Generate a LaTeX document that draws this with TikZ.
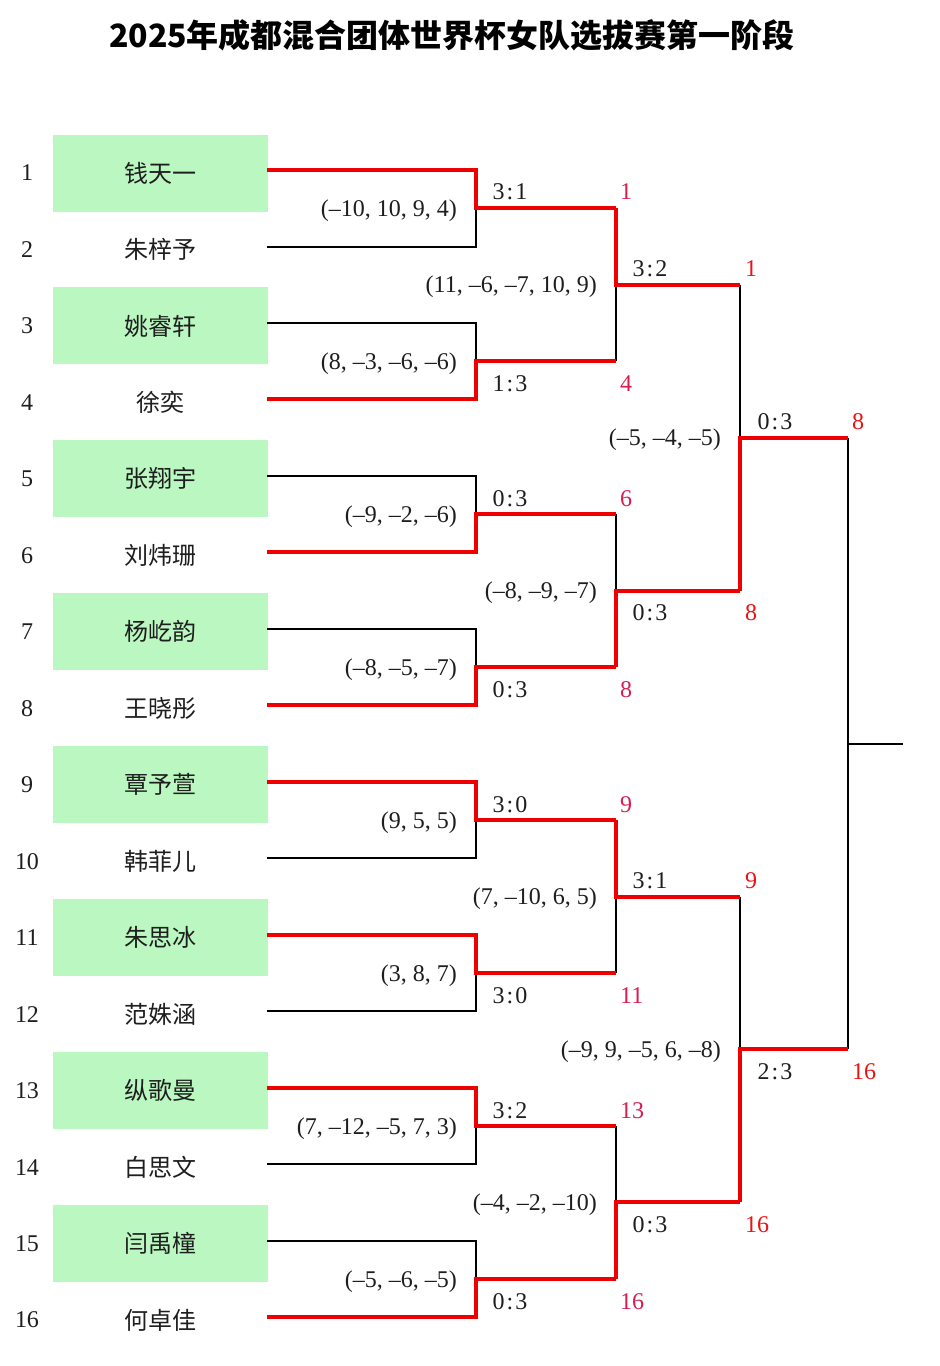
\documentclass[tikz,border=0pt]{standalone}
\usepackage{fontspec}
\setmainfont{Liberation Serif}
\newfontfamily\cjk{Noto Sans CJK SC}
\definecolor{boxgreen}{RGB}{187,247,192}
\definecolor{winred}{RGB}{238,0,0}
\definecolor{seedpink}{RGB}{214,30,80}
\definecolor{seedred}{RGB}{232,20,20}
\definecolor{txt}{RGB}{30,30,30}
\newcommand{\mscore}[2]{#1\kern2pt:\kern2pt#2}
\begin{document}
\begin{tikzpicture}[x=1pt,y=-1pt,
  namebox/.style={minimum width=215pt,minimum height=77pt,inner sep=0pt,text=txt,font=\cjk\fontsize{24}{28}\selectfont},
  winbox/.style={namebox,fill=boxgreen},
  seedno/.style={text=txt,font=\fontsize{24}{28}\selectfont},
  score/.style={text=txt,font=\fontsize{24}{28}\selectfont,yshift=-1pt},
  games/.style={text=txt,anchor=east,inner sep=0pt,font=\fontsize{24}{28}\selectfont},
  adv/.style={anchor=west,inner sep=0pt,text=seedpink,font=\fontsize{24}{28}\selectfont,yshift=-1pt},
  advr/.style={anchor=west,inner sep=0pt,text=seedred,font=\fontsize{24}{28}\selectfont,yshift=-1pt},
  lose/.style={draw=black,line width=2pt},
  win/.style={draw=winred,line width=4pt}]
\useasboundingbox (0,0) rectangle (940,1366);
\fill[white] (0,0) rectangle (940,1366);

\node[font=\cjk\bfseries\fontsize{32}{38}\selectfont] (title) at (452,35) {2025年成都混合团体世界杯女队选拔赛第一阶段};

% players
\node[seedno] (s1) at (27,173.0) {1};   \node[winbox]  (n1)  at (160.5,173.0) {钱天一};
\node[seedno] (s2) at (27,249.5) {2};   \node[namebox] (n2)  at (160.5,249.5) {朱梓予};
\node[seedno] (s3) at (27,325.9) {3};   \node[winbox]  (n3)  at (160.5,325.9) {姚睿轩};
\node[seedno] (s4) at (27,402.4) {4};   \node[namebox] (n4)  at (160.5,402.4) {徐奕};
\node[seedno] (s5) at (27,478.9) {5};   \node[winbox]  (n5)  at (160.5,478.9) {张翔宇};
\node[seedno] (s6) at (27,555.4) {6};   \node[namebox] (n6)  at (160.5,555.4) {刘炜珊};
\node[seedno] (s7) at (27,631.8) {7};   \node[winbox]  (n7)  at (160.5,631.8) {杨屹韵};
\node[seedno] (s8) at (27,708.3) {8};   \node[namebox] (n8)  at (160.5,708.3) {王晓彤};
\node[seedno] (s9) at (27,784.8) {9};   \node[winbox]  (n9)  at (160.5,784.8) {覃予萱};
\node[seedno] (s10) at (27,861.2) {10}; \node[namebox] (n10) at (160.5,861.2) {韩菲儿};
\node[seedno] (s11) at (27,937.7) {11}; \node[winbox]  (n11) at (160.5,937.7) {朱思冰};
\node[seedno] (s12) at (27,1014.2) {12};\node[namebox] (n12) at (160.5,1014.2) {范姝涵};
\node[seedno] (s13) at (27,1090.6) {13};\node[winbox]  (n13) at (160.5,1090.6) {纵歌曼};
\node[seedno] (s14) at (27,1167.1) {14};\node[namebox] (n14) at (160.5,1167.1) {白思文};
\node[seedno] (s15) at (27,1243.6) {15};\node[winbox]  (n15) at (160.5,1243.6) {闫禹橦};
\node[seedno] (s16) at (27,1320.1) {16};\node[namebox] (n16) at (160.5,1320.1) {何卓佳};

% line starts
\coordinate (a1) at (267,170.0);  \coordinate (a2) at (267,246.5);
\coordinate (a3) at (267,322.9);  \coordinate (a4) at (267,399.4);
\coordinate (a5) at (267,475.9);  \coordinate (a6) at (267,552.4);
\coordinate (a7) at (267,628.8);  \coordinate (a8) at (267,705.3);
\coordinate (a9) at (267,781.8);  \coordinate (a10) at (267,858.2);
\coordinate (a11) at (267,934.7); \coordinate (a12) at (267,1011.2);
\coordinate (a13) at (267,1087.6);\coordinate (a14) at (267,1164.1);
\coordinate (a15) at (267,1240.6);\coordinate (a16) at (267,1317.1);
% round 1 junctions
\coordinate (b1) at (476,208.25);  \coordinate (c1) at (616,208.25);
\coordinate (b2) at (476,361.15);  \coordinate (c2) at (616,361.15);
\coordinate (b3) at (476,514.15);  \coordinate (c3) at (616,514.15);
\coordinate (b4) at (476,667.05);  \coordinate (c4) at (616,667.05);
\coordinate (b5) at (476,820.0);   \coordinate (c5) at (616,820.0);
\coordinate (b6) at (476,972.95);  \coordinate (c6) at (616,972.95);
\coordinate (b7) at (476,1125.85); \coordinate (c7) at (616,1125.85);
\coordinate (b8) at (476,1278.85); \coordinate (c8) at (616,1278.85);
% round 2 junctions
\coordinate (e1) at (616,284.7);   \coordinate (f1) at (740,284.7);
\coordinate (e2) at (616,590.6);   \coordinate (f2) at (740,590.6);
\coordinate (e3) at (616,896.5);   \coordinate (f3) at (740,896.5);
\coordinate (e4) at (616,1202.35); \coordinate (f4) at (740,1202.35);
% round 3 junctions
\coordinate (g1) at (740,437.65);  \coordinate (h1) at (848,437.65);
\coordinate (g2) at (740,1049.4);  \coordinate (h2) at (848,1049.4);
% final
\coordinate (k) at (848,743.5);    \coordinate (z) at (903,743.5);

% losing connectors
\draw[lose] (a2) -| (b1);
\draw[lose] (a3) -| (b2);
\draw[lose] (a5) -| (b3);
\draw[lose] (a7) -| (b4);
\draw[lose] (a10) -| (b5);
\draw[lose] (a12) -| (b6);
\draw[lose] (a14) -| (b7);
\draw[lose] (a15) -| (b8);
\draw[lose] (c2) -- (e1);
\draw[lose] (c3) -- (e2);
\draw[lose] (c6) -- (e3);
\draw[lose] (c7) -- (e4);
\draw[lose] (f1) -- (g1);
\draw[lose] (f3) -- (g2);
\draw[lose] (h1) -- (h2);
\draw[lose] (k) -- (z);

% winning connectors
\draw[win] (a1) -| (b1) -- (c1);
\draw[win] (a4) -| (b2) -- (c2);
\draw[win] (a6) -| (b3) -- (c3);
\draw[win] (a8) -| (b4) -- (c4);
\draw[win] (a9) -| (b5) -- (c5);
\draw[win] (a11) -| (b6) -- (c6);
\draw[win] (a13) -| (b7) -- (c7);
\draw[win] (a16) -| (b8) -- (c8);
\draw[win] (c1) -- (e1) -- (f1);
\draw[win] (c4) -- (e2) -- (f2);
\draw[win] (c5) -- (e3) -- (f3);
\draw[win] (c8) -- (e4) -- (f4);
\draw[win] (f2) -- (g1) -- (h1);
\draw[win] (f4) -- (g2) -- (h2);

% round 1 labels
\node[score] (r1s1) at (510,191) {\mscore31};
\node[games] (r1g1) at (457,211) {(–10, 10, 9, 4)};
\node[adv]   (r1w1) at (620,191) {1};
\node[games] (r1g2) at (457,364) {(8, –3, –6, –6)};
\node[score] (r1s2) at (510,383) {\mscore13};
\node[adv]   (r1w2) at (620,383) {4};
\node[score] (r1s3) at (510,498) {\mscore03};
\node[games] (r1g3) at (457,517) {(–9, –2, –6)};
\node[adv]   (r1w3) at (620,498) {6};
\node[games] (r1g4) at (457,670) {(–8, –5, –7)};
\node[score] (r1s4) at (510,689) {\mscore03};
\node[adv]   (r1w4) at (620,689) {8};
\node[score] (r1s5) at (510,804) {\mscore30};
\node[games] (r1g5) at (457,823) {(9, 5, 5)};
\node[adv]   (r1w5) at (620,804) {9};
\node[games] (r1g6) at (457,976) {(3, 8, 7)};
\node[score] (r1s6) at (510,995) {\mscore30};
\node[adv]   (r1w6) at (620,995) {11};
\node[score] (r1s7) at (510,1110) {\mscore32};
\node[games] (r1g7) at (457,1129) {(7, –12, –5, 7, 3)};
\node[adv]   (r1w7) at (620,1110) {13};
\node[games] (r1g8) at (457,1282) {(–5, –6, –5)};
\node[score] (r1s8) at (510,1301) {\mscore03};
\node[adv]   (r1w8) at (620,1301) {16};

% round 2 labels
\node[score] (r2s1) at (650,268) {\mscore32};
\node[games] (r2g1) at (597,287) {(11, –6, –7, 10, 9)};
\node[advr]  (r2w1) at (745,268) {1};
\node[games] (r2g2) at (597,593) {(–8, –9, –7)};
\node[score] (r2s2) at (650,612) {\mscore03};
\node[advr]  (r2w2) at (745,612) {8};
\node[score] (r2s3) at (650,880) {\mscore31};
\node[games] (r2g3) at (597,899) {(7, –10, 6, 5)};
\node[advr]  (r2w3) at (745,880) {9};
\node[games] (r2g4) at (597,1205) {(–4, –2, –10)};
\node[score] (r2s4) at (650,1224) {\mscore03};
\node[advr]  (r2w4) at (745,1224) {16};

% round 3 labels
\node[score] (r3s1) at (775,421) {\mscore03};
\node[games] (r3g1) at (721,440) {(–5, –4, –5)};
\node[advr]  (r3w1) at (852,421) {8};
\node[games] (r3g2) at (721,1052) {(–9, 9, –5, 6, –8)};
\node[score] (r3s2) at (775,1071) {\mscore23};
\node[advr]  (r3w2) at (852,1071) {16};
\end{tikzpicture}
\end{document}
